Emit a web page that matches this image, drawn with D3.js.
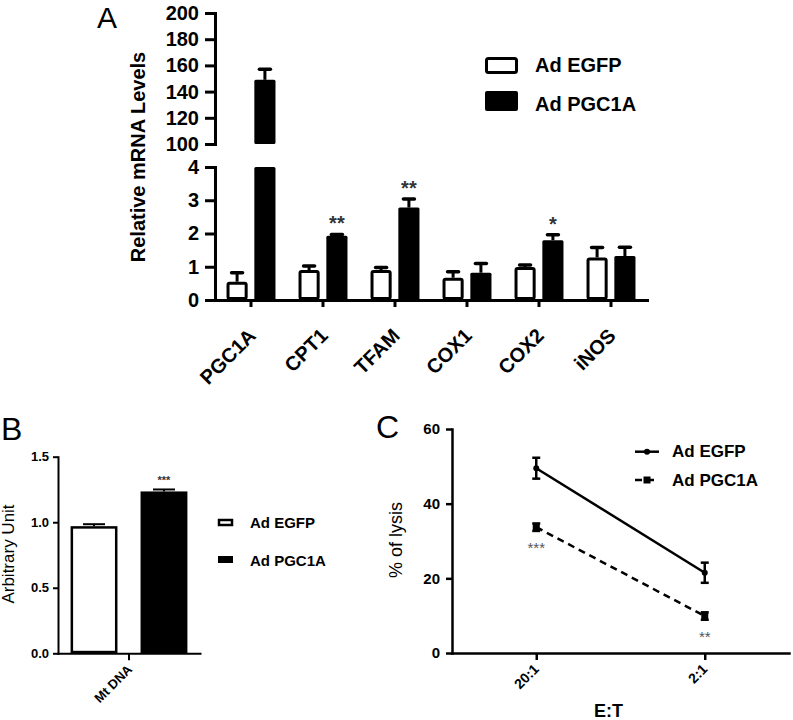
<!DOCTYPE html>
<html>
<head>
<meta charset="utf-8">
<script src="https://cdn.jsdelivr.net/npm/d3@7"></script>
<style>
  body { margin: 0; background: #fff; }
  svg { display: block; font-family: "Liberation Sans", Arial, Helvetica, sans-serif; }
</style>
</head>
<body>
<svg id="chart" width="793" height="720"></svg>
<script>
// ---------- Panel A data ----------
const categoriesA = ["PGC1A", "CPT1", "TFAM", "COX1", "COX2", "iNOS"];
const seriesNames = ["Ad EGFP", "Ad PGC1A"];
const egfpA = [0.55, 0.9, 0.9, 0.67, 0.99, 1.28];
const egfpAErr = [0.27, 0.12, 0.08, 0.18, 0.06, 0.3];
const pgcA = [149, 1.93, 2.78, 0.82, 1.8, 1.32];
const pgcAErr = [8, 0.04, 0.26, 0.28, 0.16, 0.27];
const sigA = ["", "**", "**", "", "*", ""];
const yTicksLowA = [0, 1, 2, 3, 4];
const yTicksHighA = [100, 120, 140, 160, 180, 200];

// ---------- Panel B data ----------
const categoriesB = ["Mt DNA"];
const egfpB = [0.97];
const egfpBErr = [0.015];
const pgcB = [1.235];
const pgcBErr = [0.015];
const sigB = ["***"];
const yTicksB = [0, 0.5, 1.0, 1.5];

// ---------- Panel C data ----------
const ratiosC = ["20:1", "2:1"];
const egfpC = [49.5, 21.5];
const egfpCErr = [2.8, 2.7];
const pgcC = [33.7, 9.9];
const pgcCErr = [1.0, 1.0];
const sigC = ["***", "**"];
const yTicksC = [0, 20, 40, 60];

const svg = d3.select("#chart");
const FONT = '"Liberation Sans", Arial, Helvetica, sans-serif';

function styleAxis(g, sw, fs, bold) {
  g.selectAll(".domain").attr("stroke", "#000").attr("stroke-width", sw).attr("stroke-linecap", "square");
  g.selectAll(".tick line").attr("stroke", "#000").attr("stroke-width", sw);
  g.selectAll(".tick text").attr("fill", "#000").style("font-size", fs + "px")
    .style("font-weight", bold ? "bold" : "normal").style("font-family", FONT);
}

// ================= PANEL A =================
(function () {
  const left = 215, right = 647, base = 300;
  const yLow = d3.scaleLinear().domain([0, 4]).range([base, 167]);
  const yHigh = d3.scaleLinear().domain([100, 200]).range([144, 13]);
  const x = d3.scaleBand().domain(categoriesA).range([left, right]).paddingInner(0.32).paddingOuter(0.16);
  const xs = d3.scaleBand().domain(seriesNames).range([0, x.bandwidth()]).paddingInner(0.24);

  const g = svg.append("g");
  const data = [];
  categoriesA.forEach((c, i) => {
    data.push({cat: c, s: seriesNames[0], v: egfpA[i], e: egfpAErr[i]});
    data.push({cat: c, s: seriesNames[1], v: pgcA[i], e: pgcAErr[i]});
  });

  data.forEach(d => {
    const bx = x(d.cat) + xs(d.s);
    const bw = xs.bandwidth();
    const white = d.s === seriesNames[0];
    const sw = white ? 3 : 0;
    const segs = [];
    if (d.v <= 4) segs.push([yLow(d.v), yLow(0)]);
    else { segs.push([yLow(4), yLow(0)]); segs.push([yHigh(d.v), yHigh(100)]); }
    segs.forEach(([y0, y1]) => {
      g.append("rect")
        .attr("x", bx + sw / 2).attr("y", y0 + sw / 2)
        .attr("width", bw - sw).attr("height", y1 - y0 - sw)
        .attr("fill", white ? "#fff" : "#000")
        .attr("stroke", "#000").attr("stroke-width", sw)
        .attr("rx", 1.5);
    });
    const sc = d.v > 4 ? yHigh : yLow;
    const cx = bx + bw / 2;
    g.append("line").attr("x1", cx).attr("x2", cx).attr("y1", sc(d.v)).attr("y2", sc(d.v + d.e))
      .attr("stroke", "#000").attr("stroke-width", 3);
    g.append("line").attr("x1", cx - 5.5).attr("x2", cx + 5.5).attr("y1", sc(d.v + d.e)).attr("y2", sc(d.v + d.e))
      .attr("stroke", "#000").attr("stroke-width", 3.5).attr("stroke-linecap", "round");
  });

  categoriesA.forEach((c, i) => {
    if (!sigA[i]) return;
    const top = pgcA[i] + pgcAErr[i];
    g.append("text")
      .attr("x", x(c) + xs(seriesNames[1]) + xs.bandwidth() / 2)
      .attr("y", yLow(top) - 4)
      .attr("text-anchor", "middle")
      .style("font-size", "20px").style("font-weight", "bold").attr("fill", "#333")
      .text(sigA[i]);
  });

  const axLow = g.append("g").attr("transform", `translate(${left},0)`)
    .call(d3.axisLeft(yLow).tickValues(yTicksLowA).tickFormat(d3.format("d")).tickSize(10).tickSizeOuter(0).tickPadding(6));
  styleAxis(axLow, 3, 20, true);
  const axHigh = g.append("g").attr("transform", `translate(${left},0)`)
    .call(d3.axisLeft(yHigh).tickValues(yTicksHighA).tickFormat(d3.format("d")).tickSize(10).tickSizeOuter(0).tickPadding(6));
  styleAxis(axHigh, 3, 20, true);

  const axX = g.append("g").attr("transform", `translate(0,${base})`)
    .call(d3.axisBottom(x).tickSize(7).tickSizeOuter(0));
  styleAxis(axX, 3, 20, true);
  axX.selectAll(".tick text")
    .attr("x", 0).attr("y", 0).attr("dy", 0)
    .attr("text-anchor", "end")
    .attr("transform", "translate(6,37) rotate(-45)");

  g.append("text").attr("transform", "translate(145,157) rotate(-90)")
    .attr("text-anchor", "middle").style("font-size", "20px").style("font-weight", "bold")
    .text("Relative mRNA Levels");

  g.append("text").attr("x", 97).attr("y", 28).style("font-size", "30px").text("A");

  const lg = g.append("g");
  seriesNames.forEach((s, i) => {
    const white = i === 0;
    lg.append("rect")
      .attr("x", white ? 486.5 : 485).attr("y", white ? 58.5 : 91)
      .attr("width", white ? 30 : 33).attr("height", white ? 14 : 20)
      .attr("rx", 2)
      .attr("fill", white ? "#fff" : "#000").attr("stroke", "#000").attr("stroke-width", white ? 3 : 0);
    lg.append("text").attr("x", 535).attr("y", white ? 72 : 111)
      .style("font-size", "20px").style("font-weight", "bold").text(s);
  });
})();

// ================= PANEL B =================
(function () {
  const left = 58, right = 200, base = 653.3;
  const y = d3.scaleLinear().domain([0, 1.5]).range([base, 456.7]);
  const xCat = d3.scaleBand().domain(categoriesB).range([left, right]);
  const xs = d3.scaleBand().domain(seriesNames).range([left, right]).paddingInner(0.33).paddingOuter(0.18);
  const g = svg.append("g");

  const data = [
    {s: seriesNames[0], v: egfpB[0], e: egfpBErr[0]},
    {s: seriesNames[1], v: pgcB[0], e: pgcBErr[0]}
  ];
  data.forEach(d => {
    const white = d.s === seriesNames[0];
    const sw = white ? 2.5 : 0;
    const bx = xs(d.s), bw = xs.bandwidth();
    g.append("rect").attr("x", bx + sw / 2).attr("y", y(d.v) + sw / 2)
      .attr("width", bw - sw).attr("height", base - y(d.v) - sw)
      .attr("fill", white ? "#fff" : "#000").attr("stroke", "#000").attr("stroke-width", sw);
    const cx = bx + bw / 2;
    g.append("line").attr("x1", cx).attr("x2", cx).attr("y1", y(d.v)).attr("y2", y(d.v + d.e))
      .attr("stroke", "#000").attr("stroke-width", 2);
    g.append("line").attr("x1", cx - 11).attr("x2", cx + 11).attr("y1", y(d.v + d.e)).attr("y2", y(d.v + d.e))
      .attr("stroke", "#000").attr("stroke-width", 2);
  });
  g.append("text").attr("x", xs(seriesNames[1]) + xs.bandwidth() / 2).attr("y", y(pgcB[0] + pgcBErr[0]) - 5)
    .attr("text-anchor", "middle").style("font-size", "11px").style("font-weight", "bold").attr("fill", "#333")
    .text(sigB[0]);

  const ay = g.append("g").attr("transform", `translate(${left},0)`)
    .call(d3.axisLeft(y).tickValues(yTicksB).tickFormat(d3.format(".1f")).tickSize(5).tickSizeOuter(0).tickPadding(4));
  styleAxis(ay, 2, 13, true);
  const ax = g.append("g").attr("transform", `translate(0,${base})`)
    .call(d3.axisBottom(xCat).tickSize(7).tickSizeOuter(0));
  styleAxis(ax, 2, 13, true);
  ax.selectAll(".tick text").attr("x", 0).attr("y", 0).attr("dy", 0)
    .attr("text-anchor", "end").attr("transform", "translate(4,17) rotate(-45)");

  g.append("text").attr("transform", "translate(14,554) rotate(-90)")
    .attr("text-anchor", "middle").style("font-size", "17px").text("Arbitrary Unit");
  g.append("text").attr("x", 1).attr("y", 440).style("font-size", "32px").text("B");

  seriesNames.forEach((s, i) => {
    const white = i === 0;
    g.append("rect").attr("x", white ? 219 : 218).attr("y", white ? 520 : 556)
      .attr("width", white ? 13 : 15).attr("height", white ? 5 : 7)
      .attr("fill", white ? "#fff" : "#000").attr("stroke", "#000").attr("stroke-width", white ? 2.5 : 0);
    g.append("text").attr("x", 250).attr("y", white ? 528 : 566)
      .style("font-size", "15px").style("font-weight", "bold").text(s);
  });
})();

// ================= PANEL C =================
(function () {
  const left = 452, right = 789, base = 653;
  const y = d3.scaleLinear().domain([0, 60]).range([base, 429]);
  const x = d3.scalePoint().domain(ratiosC).range([left, right]).padding(0.5);
  const g = svg.append("g");

  const series = [
    {name: seriesNames[0], vals: egfpC, errs: egfpCErr, dash: null, marker: "circle"},
    {name: seriesNames[1], vals: pgcC, errs: pgcCErr, dash: "7,5", marker: "square"}
  ];
  const line = d3.line().x(d => x(d.r)).y(d => y(d.v));
  series.forEach(s => {
    const pts = ratiosC.map((r, i) => ({r, v: s.vals[i], e: s.errs[i]}));
    g.append("path").datum(pts).attr("d", line).attr("fill", "none").attr("stroke", "#000")
      .attr("stroke-width", 2.5).attr("stroke-dasharray", s.dash);
    pts.forEach(p => {
      const cx = x(p.r);
      g.append("line").attr("x1", cx).attr("x2", cx).attr("y1", y(p.v - p.e)).attr("y2", y(p.v + p.e))
        .attr("stroke", "#000").attr("stroke-width", 2.5);
      [p.v - p.e, p.v + p.e].forEach(v => {
        g.append("line").attr("x1", cx - 4).attr("x2", cx + 4).attr("y1", y(v)).attr("y2", y(v))
          .attr("stroke", "#000").attr("stroke-width", 2.5);
      });
      if (s.marker === "circle") g.append("circle").attr("cx", cx).attr("cy", y(p.v)).attr("r", 3).attr("fill", "#000");
      else g.append("rect").attr("x", cx - 3.5).attr("y", y(p.v) - 3.5).attr("width", 7).attr("height", 7).attr("fill", "#000");
    });
  });
  ratiosC.forEach((r, i) => {
    g.append("text").attr("x", x(r)).attr("y", y(pgcC[i] - pgcCErr[i]) + 22)
      .attr("text-anchor", "middle").style("font-size", "15px").attr("fill", "#555").text(sigC[i]);
  });

  const ay = g.append("g").attr("transform", `translate(${left},0)`)
    .call(d3.axisLeft(y).tickValues(yTicksC).tickSize(6).tickSizeOuter(0).tickPadding(6));
  styleAxis(ay, 2.5, 15, true);
  const ax = g.append("g").attr("transform", `translate(0,${base})`)
    .call(d3.axisBottom(x).tickSize(7).tickSizeOuter(0));
  styleAxis(ax, 2.5, 14, true);
  ax.selectAll(".tick text").attr("x", 0).attr("y", 0).attr("dy", 0)
    .attr("text-anchor", "end").attr("transform", "translate(3,17) rotate(-45)");

  g.append("text").attr("x", (left + right) / 2 - 12).attr("y", 717).attr("text-anchor", "middle")
    .style("font-size", "18px").style("font-weight", "bold").text("E:T");
  g.append("text").attr("transform", "translate(402,540) rotate(-90)")
    .attr("text-anchor", "middle").style("font-size", "18px").text("% of lysis");
  g.append("text").attr("x", 376).attr("y", 438).style("font-size", "32px").text("C");

  series.forEach((s, i) => {
    const ly = i === 0 ? 451.7 : 480;
    g.append("line").attr("x1", 635).attr("x2", 659).attr("y1", ly).attr("y2", ly)
      .attr("stroke", "#000").attr("stroke-width", 2.5).attr("stroke-dasharray", s.dash);
    if (s.marker === "circle") g.append("circle").attr("cx", 647).attr("cy", ly).attr("r", 3).attr("fill", "#000");
    else g.append("rect").attr("x", 643.5).attr("y", ly - 3.5).attr("width", 7).attr("height", 7).attr("fill", "#000");
    g.append("text").attr("x", 672).attr("y", ly + 5.5)
      .style("font-size", "17px").style("font-weight", "bold").text(s.name);
  });
})();
</script>
</body>
</html>
